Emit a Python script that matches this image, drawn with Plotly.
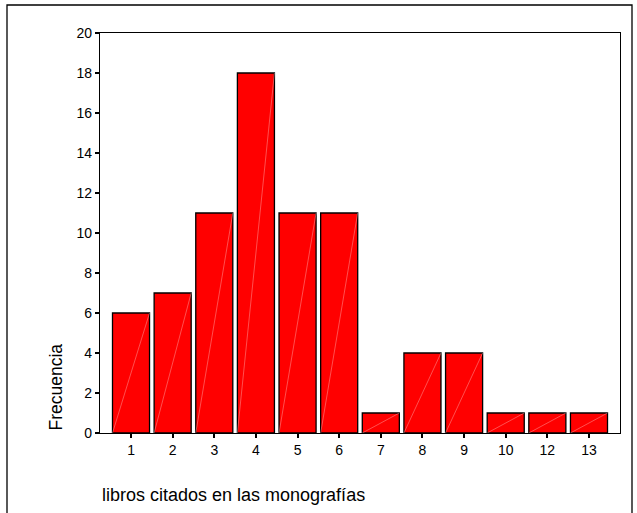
import plotly.graph_objects as go

categories = ["1", "2", "3", "4", "5", "6", "7", "8", "9", "10", "12", "13"]
frecuencia = [6, 7, 11, 18, 11, 11, 1, 4, 4, 1, 1, 1]
y_ticks = [0, 2, 4, 6, 8, 10, 12, 14, 16, 18, 20]

pos = list(range(len(categories)))
bar_width = 0.89

fig = go.Figure()
fig.add_trace(go.Bar(
    x=pos, y=frecuencia, width=bar_width,
    marker=dict(color="#ff0000", line=dict(color="#000000", width=1.3)),
    hoverinfo="x+y", showlegend=False,
))

# faint diagonal highlight inside each bar
dx, dy = [], []
for p, v in zip(pos, frecuencia):
    dx += [p - bar_width / 2, p + bar_width / 2, None]
    dy += [0, v, None]
fig.add_trace(go.Scatter(
    x=dx, y=dy, mode="lines",
    line=dict(color="rgba(255,190,190,0.7)", width=0.6),
    hoverinfo="skip", showlegend=False,
))

fig.update_layout(
    width=637, height=513,
    margin=dict(l=100, r=17, t=33, b=80),
    paper_bgcolor="white", plot_bgcolor="white",
    font=dict(family="Liberation Sans, Arial, sans-serif", size=14, color="#000000"),
    xaxis=dict(
        range=[-0.745, len(categories) - 1 + 0.745],
        tickmode="array", tickvals=pos, ticktext=categories,
        showgrid=False, zeroline=False,
        showline=True, linecolor="#000000", linewidth=1.3, mirror=True,
        ticks="outside", ticklen=4, tickwidth=2, tickcolor="#000000",
        tickfont=dict(size=14),
    ),
    yaxis=dict(
        range=[0, 20],
        tickmode="array", tickvals=y_ticks,
        showgrid=False, zeroline=False,
        showline=True, linecolor="#000000", linewidth=1.3, mirror=True,
        ticks="outside", ticklen=4, tickwidth=2, tickcolor="#000000",
        tickfont=dict(size=14),
    ),
    shapes=[dict(
        type="rect", xref="paper", yref="paper",
        x0=-93 / 520, x1=(632 - 100) / 520, y0=-0.3, y1=(433 - 5) / 400,
        line=dict(color="#000000", width=1.3), fillcolor="rgba(0,0,0,0)",
        layer="below",
    )],
    annotations=[
        dict(text="Frecuencia", textangle=-90, xref="paper", yref="paper",
             x=-45 / 520, y=0, xanchor="center", yanchor="bottom",
             showarrow=False, font=dict(size=17.5)),
        dict(text="libros citados en las monografías", xref="paper", yref="paper",
             x=0, y=-62 / 400, xanchor="left", yanchor="middle",
             showarrow=False, font=dict(size=18)),
    ],
)

fig.write_html(
    "out.html",
    config={"displayModeBar": False},
    post_script="document.body.style.margin='0';document.body.style.overflow='hidden';",
)
